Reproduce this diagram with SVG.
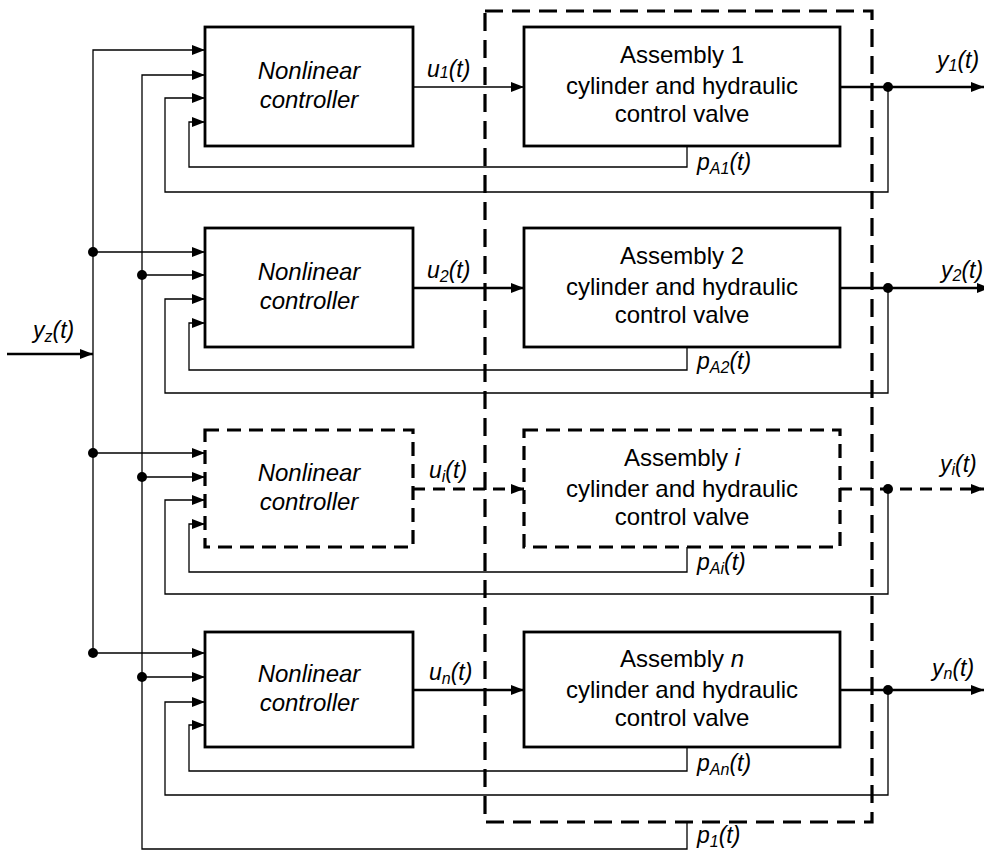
<svg xmlns="http://www.w3.org/2000/svg" width="984" height="852" viewBox="0 0 984 852">
<defs>
<style>
.box{fill:none;stroke:#000;stroke-width:2.8}
.dbox{fill:none;stroke:#000;stroke-width:3.2;stroke-dasharray:14 8}
.outer{fill:none;stroke:#000;stroke-width:3.2;stroke-dasharray:18 9}
.thin{fill:none;stroke:#000;stroke-width:1.3}
.thick{fill:none;stroke:#000;stroke-width:2.4}
.dthick{fill:none;stroke:#000;stroke-width:3;stroke-dasharray:12 8}
.t{font-family:"Liberation Sans",Arial,sans-serif;font-size:24px;fill:#000}
.ti{font-family:"Liberation Sans",Arial,sans-serif;font-size:24px;font-style:italic;fill:#000}
.lab{font-family:"Liberation Sans",Arial,sans-serif;font-size:23px;font-style:italic;fill:#000}
.sub{font-size:16px}
.dot{fill:#000}
</style>
<marker id="ah" markerUnits="userSpaceOnUse" markerWidth="14" markerHeight="11" refX="13" refY="5.5" orient="auto">
<path d="M0,0.5 L13,5.5 L0,10.5 z" fill="#000"/>
</marker>
</defs>
<rect width="984" height="852" fill="#fff"/>

<g id="boundary">
<rect class="outer" x="485" y="11" width="387" height="811"/>
</g>

<g id="ctrl1">
<rect class="box" x="205" y="27" width="208" height="119"/>
<text class="ti" x="309" y="79" text-anchor="middle">Nonlinear</text>
<text class="ti" x="309" y="108" text-anchor="middle">controller</text>
</g>
<g id="asm1">
<rect class="box" x="524" y="27" width="316" height="119"/>
<text class="t" x="682" y="63" text-anchor="middle">Assembly 1</text>
<text class="t" x="682" y="94" text-anchor="middle">cylinder and hydraulic</text>
<text class="t" x="682" y="122" text-anchor="middle">control valve</text>
</g>

<g id="ctrl2">
<rect class="box" x="205" y="228" width="208" height="119"/>
<text class="ti" x="309" y="280" text-anchor="middle">Nonlinear</text>
<text class="ti" x="309" y="309" text-anchor="middle">controller</text>
</g>
<g id="asm2">
<rect class="box" x="524" y="228" width="316" height="119"/>
<text class="t" x="682" y="264" text-anchor="middle">Assembly 2</text>
<text class="t" x="682" y="295" text-anchor="middle">cylinder and hydraulic</text>
<text class="t" x="682" y="323" text-anchor="middle">control valve</text>
</g>

<g id="ctrli">
<rect class="dbox" x="205" y="430" width="208" height="117"/>
<text class="ti" x="309" y="481" text-anchor="middle">Nonlinear</text>
<text class="ti" x="309" y="510" text-anchor="middle">controller</text>
</g>
<g id="asmi">
<rect class="dbox" x="524" y="430" width="316" height="117"/>
<text class="t" x="682" y="466" text-anchor="middle">Assembly <tspan font-style="italic">i</tspan></text>
<text class="t" x="682" y="497" text-anchor="middle">cylinder and hydraulic</text>
<text class="t" x="682" y="525" text-anchor="middle">control valve</text>
</g>

<g id="ctrln">
<rect class="box" x="205" y="632" width="208" height="115"/>
<text class="ti" x="309" y="682" text-anchor="middle">Nonlinear</text>
<text class="ti" x="309" y="711" text-anchor="middle">controller</text>
</g>
<g id="asmn">
<rect class="box" x="524" y="632" width="316" height="115"/>
<text class="t" x="682" y="667" text-anchor="middle">Assembly <tspan font-style="italic">n</tspan></text>
<text class="t" x="682" y="698" text-anchor="middle">cylinder and hydraulic</text>
<text class="t" x="682" y="726" text-anchor="middle">control valve</text>
</g>

<g id="connectors">
<!-- y_z input and bus -->
<line class="thick" x1="7" y1="354" x2="93" y2="354" marker-end="url(#ah)"/>
<polyline class="thin" points="93,653 93,50 205,50" marker-end="url(#ah)"/>
<line class="thin" x1="93" y1="252" x2="205" y2="252" marker-end="url(#ah)"/>
<line class="thin" x1="93" y1="453" x2="205" y2="453" marker-end="url(#ah)"/>
<line class="thin" x1="93" y1="653" x2="205" y2="653" marker-end="url(#ah)"/>
<!-- p1 bus -->
<polyline class="thin" points="687,822 687,849 142,849 142,75 205,75" marker-end="url(#ah)"/>
<line class="thin" x1="142" y1="275" x2="205" y2="275" marker-end="url(#ah)"/>
<line class="thin" x1="142" y1="477" x2="205" y2="477" marker-end="url(#ah)"/>
<line class="thin" x1="142" y1="677" x2="205" y2="677" marker-end="url(#ah)"/>

<!-- row 1 -->
<polyline class="thin" points="888,87 888,192 165,192 165,98 205,98" marker-end="url(#ah)"/>
<polyline class="thin" points="687,146 687,167 189,167 189,122 205,122" marker-end="url(#ah)"/>
<line class="thin" x1="413" y1="87" x2="524" y2="87" marker-end="url(#ah)"/>
<line class="thick" x1="840" y1="87" x2="984" y2="87" marker-end="url(#ah)"/>
<!-- row 2 -->
<polyline class="thin" points="888,288 888,393 165,393 165,299 205,299" marker-end="url(#ah)"/>
<polyline class="thin" points="687,347 687,370 189,370 189,323 205,323" marker-end="url(#ah)"/>
<line class="thick" x1="413" y1="288" x2="524" y2="288" marker-end="url(#ah)"/>
<line class="thick" x1="840" y1="288" x2="990" y2="288" marker-end="url(#ah)"/>
<!-- row i -->
<polyline class="thin" points="888,489 888,594 165,594 165,500 205,500" marker-end="url(#ah)"/>
<polyline class="thin" points="687,547 687,572 189,572 189,524 205,524" marker-end="url(#ah)"/>
<line class="dthick" x1="413" y1="489" x2="524" y2="489" marker-end="url(#ah)"/>
<line class="dthick" x1="840" y1="489" x2="984" y2="489" marker-end="url(#ah)"/>
<!-- row n -->
<polyline class="thin" points="888,690 888,795 165,795 165,702 205,702" marker-end="url(#ah)"/>
<polyline class="thin" points="687,747 687,771 189,771 189,725 205,725" marker-end="url(#ah)"/>
<line class="thick" x1="413" y1="690" x2="524" y2="690" marker-end="url(#ah)"/>
<line class="thick" x1="840" y1="690" x2="984" y2="690" marker-end="url(#ah)"/>

<!-- junction dots -->
<circle class="dot" cx="93" cy="252" r="5"/>
<circle class="dot" cx="142" cy="275" r="5"/>
<circle class="dot" cx="93" cy="453" r="5"/>
<circle class="dot" cx="142" cy="477" r="5"/>
<circle class="dot" cx="93" cy="653" r="5"/>
<circle class="dot" cx="142" cy="677" r="5"/>
<circle class="dot" cx="888" cy="87" r="5"/>
<circle class="dot" cx="888" cy="288" r="5"/>
<circle class="dot" cx="888" cy="489" r="5"/>
<circle class="dot" cx="888" cy="690" r="5"/>

<!-- labels -->
<text class="lab" x="33" y="338">y<tspan class="sub" dy="4">z</tspan><tspan dy="-4">(t)</tspan></text>
<text class="lab" x="427" y="77">u<tspan class="sub" dy="1">1</tspan><tspan dy="-1">(t)</tspan></text>
<text class="lab" x="427" y="278">u<tspan class="sub" dy="4">2</tspan><tspan dy="-4">(t)</tspan></text>
<text class="lab" x="429" y="478">u<tspan class="sub" dy="4">i</tspan><tspan dy="-4">(t)</tspan></text>
<text class="lab" x="429" y="680">u<tspan class="sub" dy="4">n</tspan><tspan dy="-4">(t)</tspan></text>
<text class="lab" x="937" y="68">y<tspan class="sub" dy="3">1</tspan><tspan dy="-3">(t)</tspan></text>
<text class="lab" x="941" y="278">y<tspan class="sub" dy="3">2</tspan><tspan dy="-3">(t)</tspan></text>
<text class="lab" x="940" y="472">y<tspan class="sub" dy="3">i</tspan><tspan dy="-3">(t)</tspan></text>
<text class="lab" x="932" y="676">y<tspan class="sub" dy="3">n</tspan><tspan dy="-3">(t)</tspan></text>
<text class="lab" x="697" y="170">p<tspan class="sub" dy="4">A1</tspan><tspan dy="-4">(t)</tspan></text>
<text class="lab" x="697" y="369">p<tspan class="sub" dy="4">A2</tspan><tspan dy="-4">(t)</tspan></text>
<text class="lab" x="697" y="570">p<tspan class="sub" dy="4">Ai</tspan><tspan dy="-4">(t)</tspan></text>
<text class="lab" x="697" y="771">p<tspan class="sub" dy="4">An</tspan><tspan dy="-4">(t)</tspan></text>
<text class="lab" x="697" y="843">p<tspan class="sub" dy="4">1</tspan><tspan dy="-4">(t)</tspan></text>
</g>
</svg>
